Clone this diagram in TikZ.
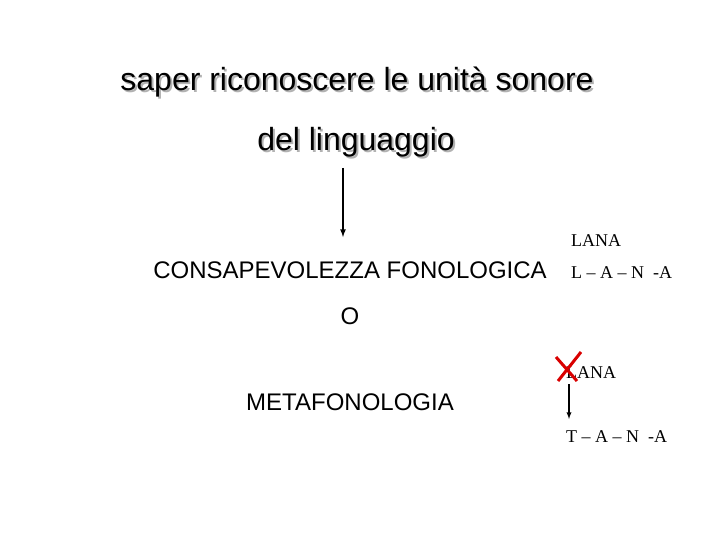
\documentclass[tikz,border=0pt]{standalone}
\usepackage{fontspec}
\setmainfont{Liberation Sans}
\newfontfamily\serifrm{Liberation Serif}
\usepackage{tikz}
% testo con ombra grigia
\newcommand{\ombra}[1]{\rlap{\hspace{2pt}\raisebox{-2pt}{\textcolor{black!30}{#1}}}#1}

\begin{document}
\begin{tikzpicture}[x=1pt,y=-1pt,every node/.style={inner sep=0pt,anchor=base}]
   \useasboundingbox (0,0) rectangle (720,540);
   \tikzset{titletxt/.style={font=\fontsize{32}{36}\selectfont},
            bigtxt/.style={font=\fontsize{24}{28}\selectfont},
            smalltxt/.style={font=\serifrm\fontsize{18}{21}\selectfont,anchor=base west}}
   % titolo
   \node[titletxt] (titolo) at (357,91) {\ombra{saper riconoscere le unità sonore}};
   \node[titletxt] (ling) at (356,151) {\ombra{del linguaggio}};
   \node[bigtxt] (consap) at (350,278) {CONSAPEVOLEZZA FONOLOGICA};
   \node[bigtxt] (o) at (350,324) {O};
   \node[bigtxt] (meta) at (350,410) {METAFONOLOGIA};
   \coordinate (a1) at (343,168);
   \coordinate (a2) at (343,237);
   \draw[-latex,line width=1.6pt] (a1) -- (a2);
   % esempi a destra
   \node[smalltxt] (lana) at (571,246) {LANA};
   \node[smalltxt] (lana2) at (571,278) {L – A – N\enspace-A};
   \node[smalltxt] (lana3) at (566,378) {LANA};
   \draw[red!85!black,line width=3pt] (556,357) -- (577,381) (558,381) -- (581,352);
   \coordinate (b1) at (569,384);
   \coordinate (b2) at (569,419);
   \draw[-latex,line width=1.3pt] (b1) -- (b2);
   \node[smalltxt] (tana) at (566,442) {T – A – N\enspace-A};
\end{tikzpicture}
\end{document}
